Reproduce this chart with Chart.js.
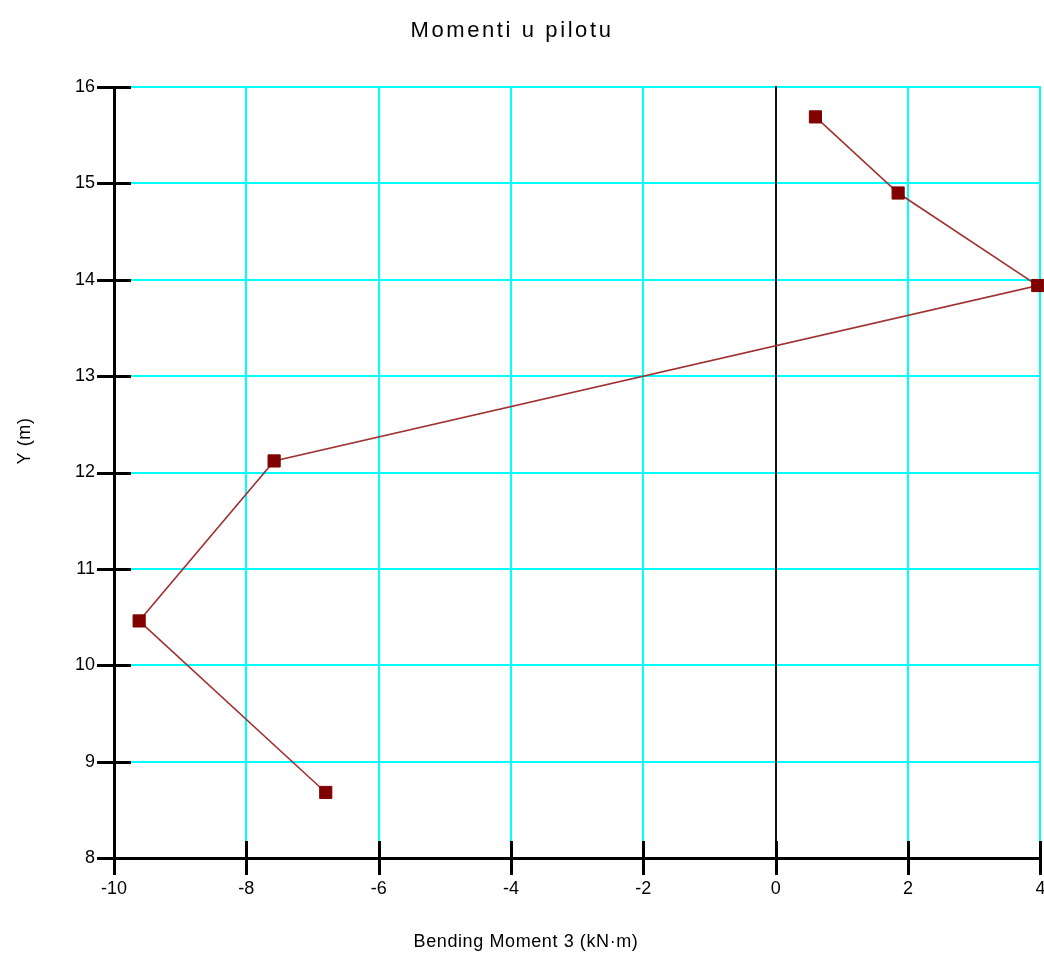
<!DOCTYPE html>
<html lang="en">
<head>
  <meta charset="utf-8"/>
  <title>Momenti u pilotu</title>
  <script src="https://cdn.jsdelivr.net/npm/chart.js@4.4.1/dist/chart.umd.min.js"></script>
  <style>
    html, body { margin: 0; padding: 0; background: #fff; overflow: hidden; }
    #wrap { width: 1044px; height: 956px; overflow: hidden; }
  </style>
</head>
<body>
  <div id="wrap">
    <canvas id="momentChart" width="1050" height="956"></canvas>
  </div>
  <script>
    // values
    var chartTitle = 'Momenti u pilotu';
    var xTitle = 'Bending Moment 3 (kN\u00b7m)';
    var yTitle = 'Y (m)';
    var momentValues = [0.60, 1.85, 3.96, -7.58, -9.62, -6.80];
    var depthValues = [15.69, 14.90, 13.94, 12.12, 10.46, 8.68];
    var xTicks = [-10, -8, -6, -4, -2, 0, 2, 4];
    var yTicks = [8, 9, 10, 11, 12, 13, 14, 15, 16];

    var FONT = '"Liberation Sans", Arial, sans-serif';

    var points = [];
    for (var i = 0; i < momentValues.length; i++) {
      points.push({ x: momentValues[i], y: depthValues[i] });
    }

    // cyan grid drawn as whole-pixel rects so it stays crisp
    var cyanGrid = {
      id: 'cyanGrid',
      beforeDatasetsDraw: function(chart) {
        var ctx = chart.ctx;
        var xs = chart.scales.x, ys = chart.scales.y;
        var a = chart.chartArea;
        ctx.save();
        yTicks.forEach(function(v) {
          var py = Math.round(ys.getPixelForValue(v));
          ctx.fillStyle = '#00ffff';
          ctx.fillRect(Math.round(a.left), py - 1, Math.round(a.right - a.left) + 1, 2);
        });
        xTicks.forEach(function(v) {
          var px = Math.round(xs.getPixelForValue(v));
          ctx.fillStyle = v === 0 ? '#0a1414' : '#00ffff';
          ctx.fillRect(px - 1, Math.round(a.top) - 1, 2, Math.round(a.bottom - a.top) + 1);
        });
        ctx.restore();
      }
    };

    // tick marks that cross the axis lines, plus the titles
    var axisDecor = {
      id: 'axisDecor',
      afterDraw: function(chart) {
        var ctx = chart.ctx;
        var xs = chart.scales.x, ys = chart.scales.y;
        var area = chart.chartArea;
        ctx.save();
        ctx.fillStyle = '#000';
        ctx.fillRect(Math.round(area.left) - 1, Math.round(area.top), 3, Math.round(area.bottom - area.top) + 1);
        ctx.fillRect(Math.round(area.left) - 1, Math.round(area.bottom) - 1, Math.round(area.right - area.left) + 2, 3);
        yTicks.forEach(function(v) {
          var py = Math.round(ys.getPixelForValue(v));
          ctx.fillRect(Math.round(area.left) - 17, py - 1, 34, 3);
        });
        xTicks.forEach(function(v) {
          var px = Math.round(xs.getPixelForValue(v));
          ctx.fillRect(px - 1, Math.round(area.bottom) - 17, 3, 34);
        });

        ctx.textAlign = 'center';
        ctx.textBaseline = 'alphabetic';
        ctx.font = '22px ' + FONT;
        ctx.letterSpacing = '2.6px';
        ctx.fillText(chartTitle, 512, 37);

        ctx.font = '18px ' + FONT;
        ctx.letterSpacing = '0.6px';
        ctx.fillText(xTitle, 526, 947);

        ctx.translate(30, 441);
        ctx.rotate(-Math.PI / 2);
        ctx.fillText(yTitle, 0, 0);
        ctx.restore();
      }
    };

    var d = document.getElementById('momentChart');
    var myChart = new Chart(d, {
      type: 'scatter',
      data: {
        datasets: [{
          data: points,
          showLine: true,
          borderColor: '#a03232',
          borderWidth: 1.6,
          pointStyle: 'rect',
          pointRadius: 8.6,
          pointBorderWidth: 1,
          pointBackgroundColor: '#800000',
          pointBorderColor: '#800000',
          clip: false
        }]
      },
      options: {
        responsive: false,
        animation: false,
        layout: { padding: { top: 87, right: 9, left: 0, bottom: 0 } },
        plugins: {
          legend: { display: false },
          tooltip: { enabled: false },
          title: { display: false }
        },
        scales: {
          x: {
            type: 'linear',
            min: xTicks[0],
            max: xTicks[xTicks.length - 1],
            afterFit: function(s) { s.height = 98; },
            grid: {
              color: 'rgba(0,0,0,0)',
              drawTicks: true,
              tickLength: 17,
              tickColor: 'rgba(0,0,0,0)'
            },
            border: { display: false },
            ticks: { stepSize: 2, color: '#000', font: { family: FONT, size: 18 }, padding: 3, maxRotation: 0 }
          },
          y: {
            type: 'linear',
            min: yTicks[0],
            max: yTicks[yTicks.length - 1],
            afterFit: function(s) { s.width = 114; },
            grid: {
              color: 'rgba(0,0,0,0)',
              drawTicks: true,
              tickLength: 17,
              tickColor: 'rgba(0,0,0,0)'
            },
            border: { display: false },
            ticks: { stepSize: 1, color: '#000', font: { family: FONT, size: 18 }, padding: 2 }
          }
        }
      },
      plugins: [cyanGrid, axisDecor]
    });
  </script>
</body>
</html>
